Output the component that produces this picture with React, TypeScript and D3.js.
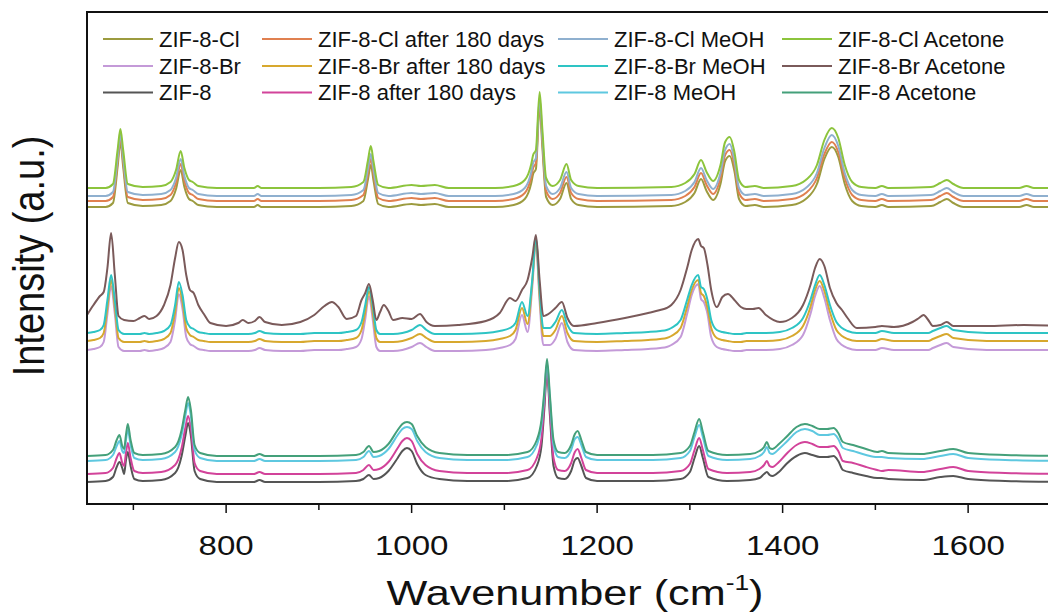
import React, { useEffect, useRef } from 'react';
import * as d3 from 'd3';

// legend, row by row (4 columns)
const legendNames = [
  'ZIF-8-Cl', 'ZIF-8-Cl after 180 days', 'ZIF-8-Cl MeOH', 'ZIF-8-Cl Acetone',
  'ZIF-8-Br', 'ZIF-8-Br after 180 days', 'ZIF-8-Br MeOH', 'ZIF-8-Br Acetone',
  'ZIF-8', 'ZIF-8 after 180 days', 'ZIF-8 MeOH', 'ZIF-8 Acetone',
];
const legendColors = [
  '#9c9b3f', '#e08050', '#8fb0cf', '#8cc43c',
  '#c49ad8', '#d7a82e', '#2ec4c4', '#7a5a5a',
  '#555555', '#d2439a', '#5ec8e0', '#44a07a',
];

const xTicks = [800, 1000, 1200, 1400, 1600];
const xMinorTicks = [700, 900, 1100, 1300, 1500, 1700];

// ZIF-8-Cl group (top), intensities are offset for display
const topWavenumbers = [650, 670, 678, 683, 686, 689, 694, 710, 730, 740, 746, 751, 755, 760, 764, 770, 790, 830, 834, 838, 900, 935, 948, 953, 956, 959, 964, 975, 1000, 1010, 1025, 1040, 1090, 1110, 1122, 1129, 1131, 1134, 1138, 1141, 1145, 1152, 1160, 1167, 1172, 1180, 1200, 1280, 1295, 1305, 1312, 1318, 1325, 1333, 1338, 1343, 1348, 1353, 1360, 1370, 1380, 1410, 1425, 1437, 1445, 1453, 1460, 1467, 1475, 1485, 1500, 1507, 1514, 1560, 1570, 1577, 1584, 1595, 1655, 1663, 1671, 1700];
const clAcetone = [316, 316, 320, 354, 375, 354, 320, 317, 318, 322, 334, 353, 336, 324, 322, 318, 316, 316, 318, 316, 316, 317, 322, 344, 358, 342, 319, 316, 319, 318, 319, 316, 316, 318, 324, 340, 349, 354, 412, 374, 326, 318, 324, 340, 324, 318, 316, 317, 321, 330, 344, 332, 323, 339, 362, 367, 352, 324, 317, 318, 316, 318, 324, 339, 364, 376, 366, 339, 322, 317, 316, 318, 316, 317, 321, 324, 320, 316, 316, 318, 316, 316];
const clMeoh = [308, 308, 312, 346, 370, 346, 312, 309, 310, 314, 326, 345, 328, 316, 314, 310, 308, 308, 310, 308, 308, 309, 314, 336, 350, 334, 311, 308, 311, 310, 311, 308, 308, 310, 316, 332, 341, 346, 406, 366, 318, 310, 316, 332, 316, 310, 308, 309, 313, 322, 336, 324, 315, 331, 354, 360, 344, 316, 309, 310, 308, 310, 316, 331, 356, 369, 358, 331, 314, 309, 308, 310, 308, 309, 313, 316, 312, 308, 308, 310, 308, 308];
const clAged = [303, 303, 307, 342, 367, 342, 307, 304, 305, 309, 321, 340, 323, 311, 309, 305, 303, 303, 305, 303, 303, 304, 309, 331, 345, 329, 306, 303, 306, 305, 306, 303, 303, 305, 311, 327, 336, 341, 402, 362, 313, 305, 311, 327, 311, 305, 303, 304, 308, 317, 331, 319, 310, 326, 349, 354, 339, 311, 304, 305, 303, 305, 311, 326, 350, 362, 352, 326, 309, 304, 303, 305, 303, 304, 308, 311, 307, 303, 303, 305, 303, 303];
const cl = [297, 297, 301, 337, 362, 337, 301, 298, 299, 303, 315, 334, 317, 305, 303, 299, 297, 297, 299, 297, 297, 298, 303, 325, 339, 323, 300, 297, 300, 299, 300, 297, 297, 299, 305, 321, 330, 335, 398, 356, 307, 299, 305, 321, 305, 299, 297, 298, 302, 311, 325, 313, 304, 320, 343, 348, 333, 305, 298, 299, 297, 299, 305, 320, 345, 357, 347, 320, 303, 298, 297, 299, 297, 298, 302, 305, 301, 297, 297, 299, 297, 297];

// ZIF-8-Br group (middle)
const midWavenumbers = [650, 657, 664, 668, 672, 676, 680, 684, 690, 700, 707, 712, 717, 725, 733, 740, 745, 749, 753, 757, 761, 765, 770, 776, 783, 800, 813, 818, 824, 831, 836, 842, 860, 880, 895, 906, 914, 921, 930, 940, 946, 950, 954, 958, 962, 966, 970, 975, 980, 990, 1000, 1009, 1016, 1025, 1050, 1080, 1095, 1106, 1112, 1119, 1125, 1130, 1134, 1138, 1142, 1149, 1155, 1162, 1168, 1175, 1200, 1230, 1255, 1268, 1275, 1280, 1290, 1297, 1302, 1309, 1312, 1315, 1319, 1323, 1329, 1335, 1341, 1348, 1355, 1361, 1368, 1374, 1382, 1397, 1410, 1422, 1430, 1435, 1440, 1445, 1451, 1458, 1464, 1470, 1480, 1500, 1507, 1520, 1540, 1547, 1552, 1557, 1562, 1570, 1577, 1584, 1620, 1660, 1700];
const brAcetone = [189, 199, 208, 212, 236, 271, 229, 188, 184, 183, 186, 188, 185, 188, 199, 219, 246, 262, 254, 229, 214, 211, 199, 190, 181, 178, 181, 184, 181, 183, 187, 182, 179, 182, 189, 198, 202, 197, 185, 188, 204, 211, 220, 204, 184, 192, 199, 193, 184, 186, 185, 190, 182, 178, 179, 183, 191, 206, 203, 214, 224, 246, 269, 224, 188, 191, 196, 202, 186, 178, 181, 186, 191, 194, 196, 199, 214, 236, 254, 265, 258, 256, 239, 214, 197, 207, 210, 204, 197, 195, 195, 196, 189, 182, 186, 199, 219, 236, 245, 238, 216, 201, 194, 186, 176, 177, 178, 177, 182, 186, 189, 184, 178, 179, 182, 178, 178, 179, 178];
const brMeoh = [171, 172, 174, 179, 204, 229, 204, 174, 170, 170, 170, 171, 170, 171, 173, 179, 199, 222, 209, 184, 177, 175, 172, 171, 170, 170, 170, 170, 170, 171, 173, 171, 170, 170, 171, 171, 171, 171, 172, 174, 182, 199, 217, 199, 174, 170, 170, 170, 170, 171, 174, 179, 174, 170, 170, 171, 173, 176, 181, 202, 188, 224, 267, 214, 176, 176, 182, 194, 179, 171, 170, 171, 172, 173, 174, 176, 184, 204, 219, 229, 217, 215, 204, 184, 174, 172, 171, 170, 170, 171, 171, 171, 171, 172, 176, 186, 204, 219, 229, 219, 199, 182, 176, 173, 171, 171, 173, 171, 171, 171, 171, 171, 173, 176, 178, 174, 171, 171, 171];
const brAged = [163, 164, 166, 171, 197, 224, 197, 166, 162, 162, 162, 163, 162, 163, 165, 171, 192, 216, 202, 176, 169, 167, 164, 163, 162, 162, 162, 162, 162, 163, 165, 163, 162, 162, 163, 163, 163, 163, 164, 166, 174, 192, 213, 192, 166, 162, 162, 162, 162, 163, 166, 170, 166, 162, 162, 163, 165, 168, 174, 196, 180, 221, 264, 208, 168, 168, 174, 188, 171, 163, 162, 163, 164, 165, 166, 168, 176, 197, 214, 224, 211, 208, 196, 176, 166, 164, 163, 162, 162, 163, 163, 163, 163, 164, 168, 178, 197, 214, 223, 213, 192, 174, 168, 165, 163, 163, 165, 163, 163, 163, 163, 163, 165, 168, 170, 166, 163, 163, 163];
const br = [154, 155, 157, 162, 190, 218, 190, 157, 153, 153, 153, 154, 153, 154, 156, 162, 184, 210, 195, 167, 160, 158, 155, 154, 153, 153, 153, 153, 153, 154, 156, 154, 153, 153, 154, 154, 154, 154, 155, 157, 165, 185, 208, 185, 157, 153, 153, 153, 153, 154, 157, 161, 157, 153, 153, 154, 156, 159, 165, 189, 172, 216, 261, 202, 159, 159, 165, 181, 162, 154, 153, 154, 155, 156, 157, 159, 167, 190, 209, 220, 205, 202, 190, 167, 157, 155, 154, 153, 153, 154, 154, 154, 154, 155, 159, 169, 190, 208, 218, 206, 184, 165, 159, 156, 154, 154, 156, 154, 154, 154, 154, 154, 156, 159, 161, 157, 154, 154, 154];

// ZIF-8 group (bottom)
const lowWavenumbers = [650, 670, 678, 682, 685, 688, 690, 692, 694, 697, 701, 710, 730, 745, 752, 756, 759, 762, 766, 772, 790, 830, 836, 842, 900, 940, 948, 954, 959, 965, 975, 985, 990, 995, 1000, 1006, 1015, 1030, 1060, 1100, 1125, 1135, 1140, 1143, 1146, 1149, 1153, 1158, 1165, 1172, 1176, 1179, 1183, 1188, 1200, 1260, 1290, 1300, 1305, 1310, 1314, 1320, 1340, 1365, 1375, 1380, 1383, 1386, 1389, 1396, 1404, 1415, 1424, 1432, 1440, 1448, 1455, 1460, 1465, 1476, 1490, 1502, 1507, 1514, 1550, 1570, 1584, 1600, 1640, 1700];
const z8Acetone = [48, 49, 54, 64, 69, 58, 55, 69, 80, 64, 51, 49, 50, 57, 74, 94, 107, 94, 59, 51, 48, 48, 50, 48, 48, 49, 52, 58, 52, 53, 60, 74, 80, 82, 80, 68, 57, 51, 49, 49, 52, 64, 84, 112, 145, 110, 64, 52, 51, 59, 70, 73, 64, 52, 49, 49, 51, 58, 72, 85, 72, 53, 49, 50, 53, 57, 62, 56, 55, 60, 67, 77, 80, 78, 75, 75, 76, 71, 62, 59, 55, 52, 53, 51, 50, 53, 55, 51, 49, 48];
const z8Meoh = [43, 44, 49, 58, 63, 53, 51, 64, 74, 59, 46, 44, 45, 52, 69, 88, 101, 88, 54, 46, 43, 43, 45, 43, 43, 44, 47, 53, 47, 48, 55, 69, 75, 77, 75, 63, 52, 46, 44, 44, 47, 59, 79, 108, 141, 106, 59, 47, 46, 54, 65, 67, 59, 47, 44, 44, 46, 53, 67, 79, 67, 48, 44, 45, 48, 52, 57, 51, 50, 55, 62, 72, 75, 73, 69, 69, 70, 65, 56, 53, 49, 47, 47, 46, 45, 48, 50, 46, 44, 43];
const z8Aged = [30, 31, 36, 46, 51, 41, 38, 51, 61, 46, 33, 31, 32, 39, 56, 76, 88, 76, 41, 33, 30, 30, 32, 30, 30, 31, 34, 39, 34, 35, 42, 56, 63, 66, 63, 50, 39, 33, 31, 31, 34, 46, 66, 100, 137, 96, 46, 34, 33, 41, 52, 55, 46, 34, 31, 31, 33, 40, 54, 66, 54, 35, 31, 32, 35, 39, 43, 38, 37, 42, 50, 59, 62, 60, 57, 57, 58, 53, 43, 41, 37, 34, 33, 34, 32, 35, 37, 33, 31, 30];
const z8 = [22, 23, 27, 37, 42, 36, 30, 44, 52, 38, 25, 23, 24, 31, 48, 68, 81, 68, 33, 25, 22, 22, 24, 22, 22, 23, 25, 29, 25, 26, 33, 46, 53, 56, 53, 40, 29, 25, 23, 23, 26, 38, 58, 94, 133, 90, 38, 26, 25, 33, 44, 46, 38, 26, 23, 23, 25, 32, 46, 58, 46, 27, 23, 24, 26, 30, 32, 29, 28, 32, 40, 48, 51, 49, 47, 47, 48, 43, 34, 31, 28, 26, 26, 25, 24, 27, 28, 25, 23, 22];

const FONT = '"Liberation Sans", Arial, Helvetica, sans-serif';

const App = () => {
  const ref = useRef<SVGSVGElement>(null);

  useEffect(() => {
    const width = 1048;
    const margin = { left: 87, top: 12, bottom: 504 };

    const svg = d3.select(ref.current);
    svg.selectAll('*').remove();

    const x = d3.scaleLinear().domain([650, 1700]).range([margin.left, margin.left + 1050 * 0.9275]);
    const y = d3.scaleLinear().domain([0, 492]).range([margin.bottom, margin.top]);

    const series = [
      { wn: topWavenumbers, v: cl, c: legendColors[0] },
      { wn: topWavenumbers, v: clAged, c: legendColors[1] },
      { wn: topWavenumbers, v: clMeoh, c: legendColors[2] },
      { wn: topWavenumbers, v: clAcetone, c: legendColors[3] },
      { wn: midWavenumbers, v: br, c: legendColors[4] },
      { wn: midWavenumbers, v: brAged, c: legendColors[5] },
      { wn: midWavenumbers, v: brMeoh, c: legendColors[6] },
      { wn: midWavenumbers, v: brAcetone, c: legendColors[7] },
      { wn: lowWavenumbers, v: z8, c: legendColors[8] },
      { wn: lowWavenumbers, v: z8Aged, c: legendColors[9] },
      { wn: lowWavenumbers, v: z8Meoh, c: legendColors[10] },
      { wn: lowWavenumbers, v: z8Acetone, c: legendColors[11] },
    ];

    const line = d3.line<[number, number]>()
      .x(d => x(d[0]))
      .y(d => y(d[1]))
      .curve(d3.curveMonotoneX);

    svg.append('defs').append('clipPath').attr('id', 'plot')
      .append('rect')
      .attr('x', margin.left).attr('y', margin.top)
      .attr('width', width - margin.left).attr('height', margin.bottom - margin.top);

    const plot = svg.append('g').attr('clip-path', 'url(#plot)');
    series.forEach(s => {
      plot.append('path')
        .datum(s.wn.map((w, i) => [w, s.v[i]] as [number, number]))
        .attr('d', line)
        .attr('fill', 'none')
        .attr('stroke', s.c)
        .attr('stroke-width', 2)
        .attr('stroke-linejoin', 'round');
    });

    // frame
    svg.append('path')
      .attr('d', `M${width + 5},${margin.top}H${margin.left}V${margin.bottom}H${width + 5}`)
      .attr('fill', 'none')
      .attr('stroke', '#111')
      .attr('stroke-width', 2);

    // x ticks
    const axis = svg.append('g');
    xTicks.forEach(t => {
      axis.append('line')
        .attr('x1', x(t)).attr('x2', x(t))
        .attr('y1', margin.bottom).attr('y2', margin.bottom + 9)
        .attr('stroke', '#111').attr('stroke-width', 1.5);
      axis.append('text')
        .attr('transform', `translate(${x(t)},555) scale(1.18,1)`)
        .attr('text-anchor', 'middle')
        .attr('font-family', FONT)
        .attr('font-size', 28)
        .attr('fill', '#111')
        .text(t);
    });
    xMinorTicks.forEach(t => {
      axis.append('line')
        .attr('x1', x(t)).attr('x2', x(t))
        .attr('y1', margin.bottom).attr('y2', margin.bottom + 6)
        .attr('stroke', '#111').attr('stroke-width', 1.5);
    });

    // axis titles
    const xt = svg.append('text')
      .attr('transform', 'translate(575,605) scale(1.2,1)')
      .attr('text-anchor', 'middle')
      .attr('font-family', FONT)
      .attr('font-size', 36)
      .attr('fill', '#111');
    xt.append('tspan').text('Wavenumber (cm');
    xt.append('tspan').attr('dy', -15).attr('font-size', 22).text('-1');
    xt.append('tspan').attr('dy', 15).text(')');

    svg.append('text')
      .attr('transform', 'translate(44,256) scale(1.15,1) rotate(-90)')
      .attr('text-anchor', 'middle')
      .attr('font-family', FONT)
      .attr('font-size', 38)
      .attr('fill', '#111')
      .text('Intensity (a.u.)');

    // legend
    const colLine = [103, 262, 558, 782];
    const rowY = [39, 66, 92.5];
    const legend = svg.append('g');
    legendNames.forEach((name, i) => {
      const col = i % 4;
      const row = Math.floor(i / 4);
      legend.append('line')
        .attr('x1', colLine[col]).attr('x2', colLine[col] + 50)
        .attr('y1', rowY[row]).attr('y2', rowY[row])
        .attr('stroke', legendColors[i]).attr('stroke-width', 2);
      legend.append('text')
        .attr('x', colLine[col] + 56)
        .attr('y', rowY[row] + 7.8)
        .attr('font-family', FONT)
        .attr('font-size', 22)
        .attr('fill', '#111')
        .text(name);
    });
  }, []);

  return (
    <svg
      ref={ref}
      width={1048}
      height={616}
      style={{ position: 'absolute', left: 0, top: 0, background: '#fff' }}
    />
  );
};

export default App;
